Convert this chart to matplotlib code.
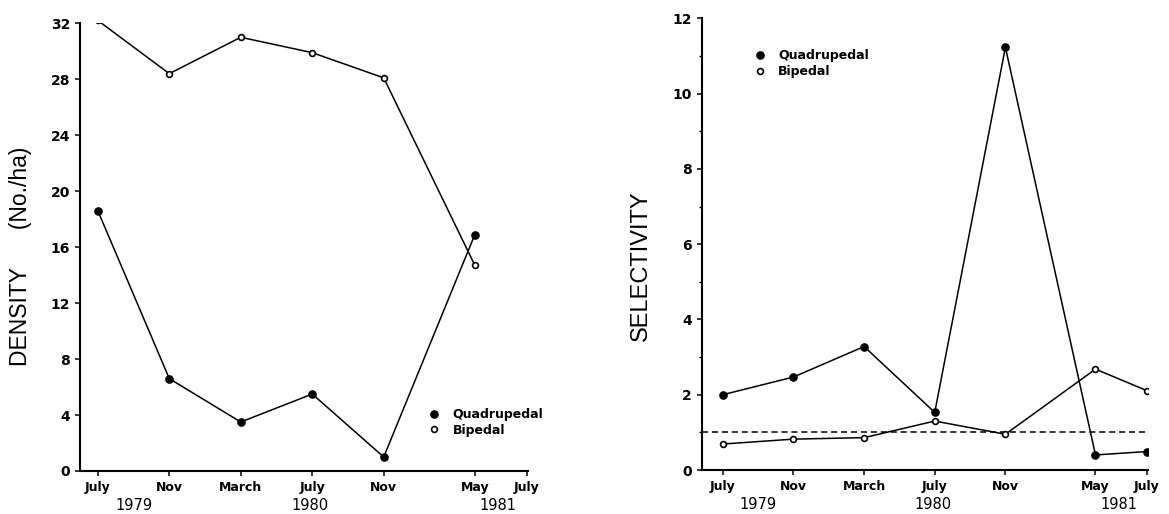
import matplotlib.pyplot as plt
from matplotlib.lines import Line2D
from matplotlib.ticker import MultipleLocator

# sampling dates, as months after July 1979 (the May sample sits a bit early on the printed axis)
sample_x = [0, 4, 8, 12, 16, 21.1, 24]
month_labels = ['July', 'Nov', 'March', 'July', 'Nov', 'May', 'July']
year_labels = ['1979', '1980', '1981']
year_x = [2.0, 11.9, 22.4]

# density (No./ha), July 1979 - May 1981
density_quad = [18.6, 6.6, 3.5, 5.5, 1.0, 16.9]
density_biped = [32.2, 28.4, 31.0, 29.9, 28.1, 14.7]

# selectivity, July 1979 - July 1981
select_quad = [2.0, 2.47, 3.28, 1.53, 11.23, 0.40, 0.49]
select_biped = [0.69, 0.82, 0.86, 1.30, 0.95, 2.68, 2.11]

TICKFONT = {'family': 'DejaVu Sans', 'weight': 'bold'}
LABELFONT = 'Liberation Sans'

fig = plt.figure(figsize=(11.69, 5.14), dpi=100)
ax1 = fig.add_axes([0.0684, 0.0837, 0.3829, 0.871])
ax2 = fig.add_axes([0.6003, 0.0856, 0.3814, 0.8788])


def style_axes(ax):
    for side in ['top', 'right']:
        ax.spines[side].set_visible(False)
    for side in ['left', 'bottom']:
        ax.spines[side].set_linewidth(1.5)
    ax.tick_params(direction='out', length=3.5, width=1.1, colors='black')
    ax.tick_params(axis='y', pad=3.5, labelsize=10)
    ax.tick_params(axis='x', pad=4, labelsize=9)
    ax.tick_params(which='minor', direction='out', length=2.2, width=1.0)
    ax.set_xticks(sample_x)
    ax.set_xticklabels(month_labels, fontdict=TICKFONT)
    for lab in ax.get_yticklabels():
        lab.set_fontfamily('DejaVu Sans')
        lab.set_fontweight('bold')
    for yr, xpos in zip(year_labels, year_x):
        ax.annotate(yr, xy=(xpos, 0), xycoords=('data', 'axes fraction'),
                    xytext=(0, -25), textcoords='offset points',
                    ha='center', va='center', fontsize=10.5,
                    family='DejaVu Sans', annotation_clip=False)


def draw_series(ax, x, quad, biped):
    ax.plot(x, quad, color='black', lw=1.1, marker='o', ms=5.2,
            mfc='black', mec='black', zorder=3)
    ax.plot(x, biped, color='black', lw=1.1, marker='o', ms=4.2,
            mfc='white', mec='black', mew=1.2, zorder=4)


def add_legend(ax, anchor):
    handles = [Line2D([], [], ls='none', marker='o', ms=5.2, mfc='black', mec='black'),
               Line2D([], [], ls='none', marker='o', ms=4.2, mfc='white', mec='black', mew=1.2)]
    ax.legend(handles, ['Quadrupedal', 'Bipedal'], loc='upper left',
              bbox_to_anchor=anchor, frameon=False, borderpad=0, borderaxespad=0,
              handlelength=1.0, handletextpad=0.95, labelspacing=0.2,
              prop={'family': 'DejaVu Sans', 'weight': 'bold', 'size': 9})


# density panel
draw_series(ax1, sample_x[:6], density_quad, density_biped)
ax1.set_xlim(-1.0, 24.05)
ax1.set_ylim(0, 32)
ax1.set_yticks(range(0, 33, 4))
style_axes(ax1)
ax1.set_ylabel('DENSITY      (No./ha)', family=LABELFONT, fontsize=16.5, va='center')
ax1.yaxis.set_label_coords(-0.132, 0.48)
add_legend(ax1, (0.778, 0.14))

# selectivity panel
draw_series(ax2, sample_x, select_quad, select_biped)
ax2.axhline(1.0, color='black', lw=1.1, ls=(0, (4, 2.5)), zorder=2)
ax2.set_xlim(-1.19, 24.05)
ax2.set_ylim(0, 12)
ax2.set_yticks(range(0, 13, 2))
ax2.yaxis.set_minor_locator(MultipleLocator(1))
style_axes(ax2)
ax2.set_ylabel('SELECTIVITY', family=LABELFONT, fontsize=17, va='center')
ax2.yaxis.set_label_coords(-0.137, 0.452)
add_legend(ax2, (0.117, 0.931))

fig.savefig('out.png', dpi=100)
